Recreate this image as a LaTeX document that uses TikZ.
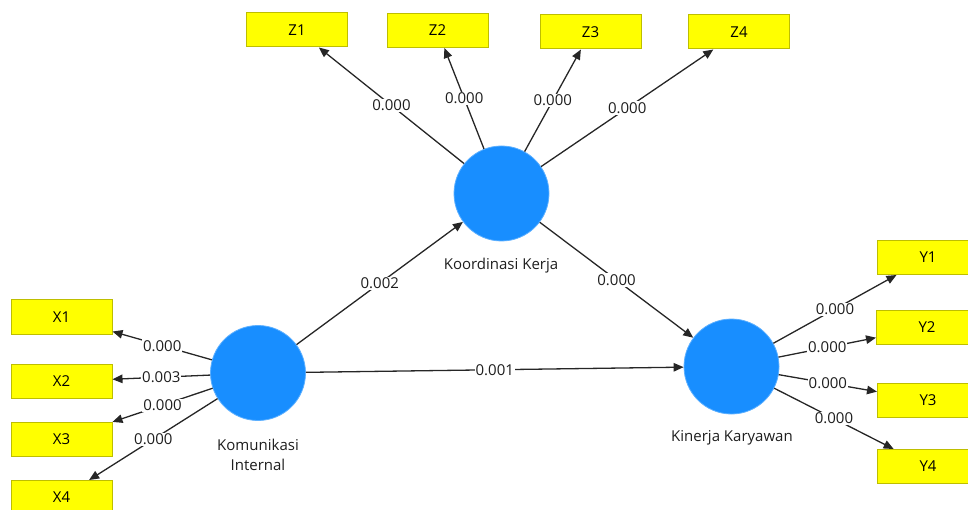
\documentclass[tikz,border=0pt]{standalone}
\usepackage{fontspec}
\setmainfont{Open Sans}
\usetikzlibrary{arrows.meta}
\definecolor{indfill}{RGB}{255,255,0}
\definecolor{inddraw}{RGB}{190,190,0}
\definecolor{latfill}{RGB}{24,142,255}
\definecolor{txt}{RGB}{30,30,30}
\tikzset{
  indicator/.style={rectangle, draw=inddraw, fill=indfill, line width=1pt,
    minimum width=101pt, minimum height=34pt, inner sep=0pt,
    font=\fontsize{15}{17}\selectfont, text=black},
  latent/.style={circle, fill=latfill, draw=latfill!70!white, line width=0.8pt,
    minimum size=95pt, inner sep=0pt},
  latname/.style={font=\fontsize{15}{20}\selectfont, text=txt, align=center},
  path/.style={draw=black!85, line width=1.3pt,
    -{Triangle[length=10pt,width=8.5pt]}},
  coef/.style={fill=white, inner sep=1pt, text=txt,
    font=\fontsize{15}{17}\selectfont, midway}
}
\begin{document}
\begin{tikzpicture}[x=1pt,y=-1pt]
\useasboundingbox (0,0) rectangle (968,510);
\clip (0,0) rectangle (968,510);

% latent constructs
\node[latent] (kk) at (501.5,193.5) {};
\node[latent] (ki) at (258,373) {};
\node[latent] (ky) at (731.5,366.5) {};
\node[latname] (kkname) at (501,266) {Koordinasi Kerja};
\node[latname] (kiname) at (258,455) {Komunikasi\\Internal};
\node[latname] (kyname) at (732,438) {Kinerja Karyawan};

% indicators of Koordinasi Kerja
\node[indicator] (z1) at (297,30) {Z1};
\node[indicator] (z2) at (437.5,30.5) {Z2};
\node[indicator] (z3) at (590.5,32) {Z3};
\node[indicator] (z4) at (739,32) {Z4};

% indicators of Komunikasi Internal
\node[indicator] (x1) at (61.5,317) {X1};
\node[indicator] (x2) at (61.5,381.5) {X2};
\node[indicator] (x3) at (61.5,439) {X3};
\node[indicator] (x4) at (61.5,497.5) {X4};

% indicators of Kinerja Karyawan
\node[indicator] (y1) at (928,257.5) {Y1};
\node[indicator] (y2) at (927,327.5) {Y2};
\node[indicator] (y3) at (928,400.5) {Y3};
\node[indicator] (y4) at (928,466.5) {Y4};

% outer loadings
\draw[path] (kk) -- node[coef] {0.000} (z1);
\draw[path] (kk) -- node[coef] {0.000} (z2);
\draw[path] (kk) -- node[coef] {0.000} (z3);
\draw[path] (kk) -- node[coef] {0.000} (z4);

\draw[path] (ki) -- node[coef] {0.000} (x1);
\draw[path] (ki) -- node[coef] {0.003} (x2);
\draw[path] (ki) -- node[coef] {0.000} (x3);
\draw[path] (ki) -- node[coef] {0.000} (x4);

\draw[path] (ky) -- node[coef] {0.000} (y1);
\draw[path] (ky) -- node[coef] {0.000} (y2);
\draw[path] (ky) -- node[coef] {0.000} (y3);
\draw[path] (ky) -- node[coef] {0.000} (y4);

% structural paths
\draw[path] (ki) -- node[coef] {0.002} (kk);
\draw[path] (kk) -- node[coef] {0.000} (ky);
\draw[path] (ki) -- node[coef] {0.001} (ky);
\end{tikzpicture}
\end{document}
